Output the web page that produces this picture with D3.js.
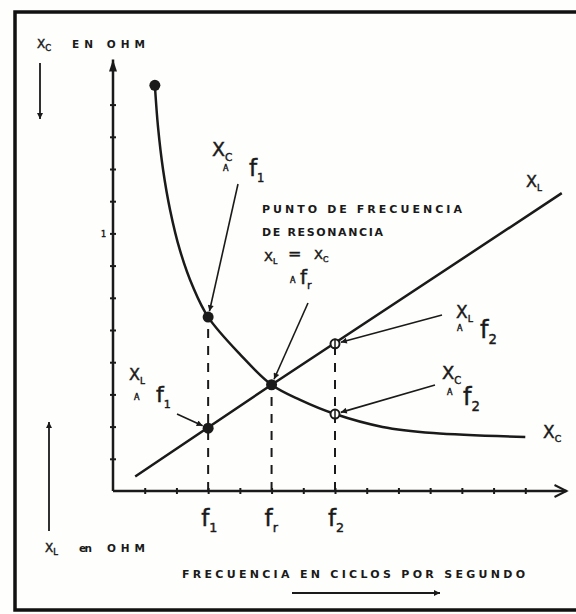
<!DOCTYPE html>
<html>
<head>
<meta charset="utf-8">
<script src="https://cdn.jsdelivr.net/npm/d3@7"></script>
<style>
body { margin: 0; background: #fff; }
text { font-family: "DejaVu Sans", sans-serif; fill: #1a1a1a; stroke: #1a1a1a; stroke-width: 0.45; }
text.cap { font-weight: bold; stroke-width: 0; }
</style>
</head>
<body>
<script>
// frecuencia (divisiones del eje) y reactancia (divisiones del eje)
var xTicks = [1, 2, 3, 4, 5, 6, 7, 8, 9, 10, 11, 12, 13];
var yTicks = [1, 2, 3, 4, 5, 6, 7, 8, 9, 10, 11, 12];
var freqMarks = [{f: 3, sub: '1'}, {f: 5, sub: 'r'}, {f: 7, sub: '2'}];

var xcCurve = [[1.32, 12.6], [1.42, 11.3], [1.58, 9.97], [1.80, 8.73], [2.11, 7.48],
               [2.52, 6.34], [3, 5.4], [4.0, 4.25], [5, 3.3], [5.9, 2.83], [7, 2.39],
               [8.5, 1.99], [10.1, 1.80], [13.0, 1.68]];
var xlLine = [[0.7, 0.45], [5, 3.3], [14.15, 9.25]];

var dots = [
    {f: 1.32, v: 12.6, open: false},
    {f: 3, v: 5.4, open: false},
    {f: 3, v: 1.95, open: false},
    {f: 5, v: 3.3, open: false},
    {f: 7, v: 4.57, open: true},
    {f: 7, v: 2.39, open: true}
];
// linea discontinua hasta el punto mas alto de cada frecuencia
var dropLines = [[3, 5.4], [5, 3.3], [7, 4.57]];

var width = 576, height = 614;

var svg = d3.select('body').append('svg')
    .attr('width', width)
    .attr('height', height);

svg.append('rect').attr('width', width).attr('height', height).attr('fill', '#fefefc');

var defs = svg.append('defs');
defs.append('marker')
    .attr('id', 'head')
    .attr('viewBox', '0 0 10 10')
    .attr('refX', 10).attr('refY', 5)
    .attr('markerWidth', 10).attr('markerHeight', 6)
    .attr('markerUnits', 'userSpaceOnUse')
    .attr('orient', 'auto')
    .append('path').attr('d', 'M0,0L10,5L0,10z').attr('fill', '#1a1a1a');

// marco
svg.append('rect')
    .attr('x', 15).attr('y', 12)
    .attr('width', 600).attr('height', 598)
    .attr('fill', 'none').attr('stroke', '#111').attr('stroke-width', 3.5);

var x = d3.scaleLinear().domain([0, 14]).range([113, 557]);
var y = d3.scaleLinear().domain([0, 13]).range([491, 72.4]);

// ejes
var xAxis = d3.axisBottom(x).tickValues(xTicks).tickSize(3).tickFormat('');
var yAxis = d3.axisLeft(y).tickValues(yTicks).tickSize(3).tickFormat('');

var gx = svg.append('g').attr('transform', `translate(0, ${y(0)})`).call(xAxis);
var gy = svg.append('g').attr('transform', `translate(${x(0)}, 0)`).call(yAxis);
gx.select('.domain').remove();
gy.select('.domain').remove();
gx.selectAll('.tick line').attr('y1', -3).attr('y2', 3).attr('stroke', '#1a1a1a').attr('stroke-width', 2);
gy.selectAll('.tick line').attr('x1', -3).attr('x2', 3).attr('stroke', '#1a1a1a').attr('stroke-width', 2);

svg.append('line')
    .attr('x1', x(0)).attr('y1', y(0)).attr('x2', x(14.3)).attr('y2', y(0))
    .attr('stroke', '#1a1a1a').attr('stroke-width', 2.5);
svg.append('path')
    .attr('d', `M${x(14.3) - 12},${y(0) - 6}L${x(14.3)},${y(0)}L${x(14.3) - 12},${y(0) + 6}`)
    .attr('fill', 'none').attr('stroke', '#1a1a1a').attr('stroke-width', 2);
svg.append('line')
    .attr('x1', x(0)).attr('y1', y(0)).attr('x2', x(0)).attr('y2', y(13.4))
    .attr('stroke', '#1a1a1a').attr('stroke-width', 2.5);
svg.append('path')
    .attr('d', `M${x(0) - 4},${y(13.4) + 12}L${x(0)},${y(13.4)}L${x(0) + 4},${y(13.4) + 12}z`)
    .attr('fill', '#1a1a1a');

// lineas discontinuas
svg.selectAll('.drop').data(dropLines).join('line')
    .attr('x1', d => x(d[0])).attr('x2', d => x(d[0]))
    .attr('y1', y(0)).attr('y2', d => y(d[1]))
    .attr('stroke', '#1a1a1a').attr('stroke-width', 2)
    .attr('stroke-dasharray', '9,8');

// curvas
var line = d3.line().x(d => x(d[0])).y(d => y(d[1]));
svg.append('path')
    .attr('d', line.curve(d3.curveCatmullRom.alpha(0.5))(xcCurve))
    .attr('fill', 'none').attr('stroke', '#1a1a1a').attr('stroke-width', 2.5);
svg.append('path')
    .attr('d', d3.line().x(d => x(d[0])).y(d => y(d[1]))(xlLine))
    .attr('fill', 'none').attr('stroke', '#1a1a1a').attr('stroke-width', 2.5);

svg.selectAll('.dot').data(dots).join('circle')
    .attr('cx', d => x(d.f)).attr('cy', d => y(d.v))
    .attr('r', d => d.open ? 4.5 : 5.5)
    .attr('fill', d => d.open ? '#fefefc' : '#1a1a1a')
    .attr('stroke', '#1a1a1a').attr('stroke-width', d => d.open ? 2 : 0);
svg.selectAll('.cross').data(dots.filter(d => d.open)).join('line')
    .attr('x1', d => x(d.f)).attr('x2', d => x(d.f))
    .attr('y1', d => y(d.v) - 5).attr('y2', d => y(d.v) + 5)
    .attr('stroke', '#1a1a1a').attr('stroke-width', 1.5);

// rotulos
function label(px, py, main, sub, size, subScale) {
    var t = svg.append('text').attr('x', px).attr('y', py).attr('font-size', size);
    t.append('tspan').text(main);
    if (sub) {
        t.append('tspan')
            .attr('dy', size * 0.25)
            .attr('font-size', size * (subScale || 0.55))
            .text(sub);
    }
    return t;
}
function small(px, py, txt, size) {
    return svg.append('text').attr('x', px).attr('y', py).attr('font-size', size || 8).text(txt);
}
function caption(px, py, txt, len, size) {
    return svg.append('text').attr('class', 'cap')
        .attr('x', px).attr('y', py).attr('font-size', size || 11)
        .attr('textLength', len).attr('lengthAdjust', 'spacing').text(txt);
}

// f1, fr, f2 en el eje
freqMarks.forEach(function (m) {
    label(x(m.f) - 7, 526, 'f', m.sub, 23, 0.55);
});

// titulos de ejes
label(37, 48, 'X', 'C', 12, 0.7);
caption(72, 48, 'EN  OHM', 73, 10.5);
label(45, 552, 'X', 'L', 12, 0.7);
caption(79, 552, 'en', 13, 10.5);
caption(107, 552, 'OHM', 38, 10.5);

caption(182, 578, 'FRECUENCIA EN CICLOS POR SEGUNDO', 343, 11);

// flechas de los titulos
svg.append('line').attr('x1', 40).attr('y1', 63).attr('x2', 40).attr('y2', 119)
    .attr('stroke', '#1a1a1a').attr('stroke-width', 1.8).attr('marker-end', 'url(#head)');
svg.append('line').attr('x1', 49).attr('y1', 531).attr('x2', 49).attr('y2', 422)
    .attr('stroke', '#1a1a1a').attr('stroke-width', 1.8).attr('marker-end', 'url(#head)');
svg.append('line').attr('x1', 292).attr('y1', 593).attr('x2', 440).attr('y2', 593)
    .attr('stroke', '#1a1a1a').attr('stroke-width', 1.8).attr('marker-end', 'url(#head)');

// pequena marca junto al eje
small(101, 237, '1', 8).attr('fill', '#777').attr('stroke', 'none');

// Xc a f1
label(212, 156, 'X', 'C', 19, 0.55);
small(223, 171, 'A', 8);
label(249, 176, 'f', '1', 23, 0.5);

// punto de resonancia
caption(262, 213, 'PUNTO DE FRECUENCIA', 200, 11);
caption(262, 236, 'DE RESONANCIA', 121, 11);
label(264, 261, 'X', 'L', 13, 0.6);
svg.append('text').attr('x', 288).attr('y', 259).attr('font-size', 16).text('=');
label(314, 259, 'X', 'C', 13, 0.6);
small(290, 283, 'A', 8);
label(300, 284, 'f', 'r', 20, 0.55);

// Xl a f2 y Xc a f2
label(456, 318, 'X', 'L', 17, 0.55);
small(457, 331, 'A', 8);
label(480, 338, 'f', '2', 24, 0.55);
label(442, 379, 'X', 'C', 18, 0.55);
small(447, 395, 'A', 8);
label(463, 405, 'f', '2', 24, 0.55);

// Xl a f1
label(129, 380, 'X', 'L', 16, 0.55);
small(134, 400, 'A', 8);
label(156, 402, 'f', '1', 22, 0.5);

// nombres de las curvas
label(526, 187, 'X', 'L', 16, 0.55);
label(543, 438, 'X', 'C', 17, 0.55);

// flechas de las anotaciones
var leaders = [
    {from: [238, 184], to: [3, 5.4]},
    {from: [308, 303], to: [5, 3.3]},
    {from: [442, 315], to: [7, 4.57]},
    {from: [435, 385], to: [7, 2.39]},
    {from: [177, 414], to: [3, 1.95]}
];
leaders.forEach(function (d) {
    var tx = x(d.to[0]), ty = y(d.to[1]);
    var dx = tx - d.from[0], dy = ty - d.from[1];
    var len = Math.sqrt(dx * dx + dy * dy);
    var k = (len - 6) / len;
    svg.append('line')
        .attr('x1', d.from[0]).attr('y1', d.from[1])
        .attr('x2', d.from[0] + dx * k).attr('y2', d.from[1] + dy * k)
        .attr('stroke', '#1a1a1a').attr('stroke-width', 1.6)
        .attr('marker-end', 'url(#head)');
});
</script>
</body>
</html>
